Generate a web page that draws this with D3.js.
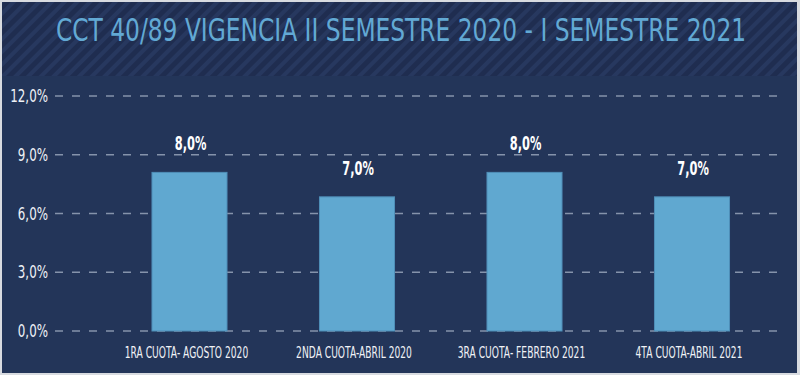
<!DOCTYPE html>
<html>
<head>
<meta charset="utf-8">
<script src="https://cdn.jsdelivr.net/npm/d3@7"></script>
<style>
  html, body { margin: 0; padding: 0; background: #ffffff; }
  svg { display: block; }
  text { font-family: "DejaVu Sans", "Liberation Sans", sans-serif; }
</style>
</head>
<body>
<svg id="chart" width="800" height="375"></svg>
<script>
const title = "CCT 40/89 VIGENCIA II SEMESTRE 2020 - I SEMESTRE 2021";
const categories = ["1RA CUOTA- AGOSTO 2020", "2NDA CUOTA-ABRIL 2020", "3RA CUOTA- FEBRERO 2021", "4TA CUOTA-ABRIL 2021"];
const values = [8.1, 6.85, 8.1, 6.85];
const valueLabels = ["8,0%", "7,0%", "8,0%", "7,0%"];
const yTicks = [0, 3, 6, 9, 12];
const yTickLabels = ["0,0%", "3,0%", "6,0%", "9,0%", "12,0%"];

const W = 800, H = 375;
const svg = d3.select("#chart");
const defs = svg.append("defs");

const pat = defs.append("pattern")
  .attr("id", "stripes")
  .attr("patternUnits", "userSpaceOnUse")
  .attr("width", 9).attr("height", 9)
  .attr("patternTransform", "rotate(45)");
pat.append("rect").attr("width", 9).attr("height", 9).attr("fill", "#1f2d50");
pat.append("rect").attr("x", 0).attr("width", 4).attr("height", 9).attr("fill", "#27385f");

// outer frame
svg.append("rect").attr("x", 0).attr("y", 0).attr("width", W).attr("height", H).attr("fill", "#d8dbe0");
svg.append("rect").attr("x", 2).attr("y", 2).attr("width", 795).attr("height", 371).attr("fill", "#233559");
// title band
svg.append("rect").attr("x", 2).attr("y", 2).attr("width", 795).attr("height", 74).attr("fill", "url(#stripes)");

svg.append("text")
  .attr("transform", "translate(401,41) scale(0.73,1)")
  .attr("text-anchor", "middle")
  .attr("font-size", 32)
  .attr("fill", "#62a9d4")
  .text(title);

const y = d3.scaleLinear().domain([0, 12]).range([331, 96]);
const x = d3.scaleBand().domain(categories).range([105.75, 775.75]).paddingInner(0.552).paddingOuter(0.276);

// gridlines
svg.append("g").selectAll("line").data(yTicks).join("line")
  .attr("x1", 55).attr("x2", 782)
  .attr("y1", d => y(d)).attr("y2", d => y(d))
  .attr("stroke", "#8593ab").attr("stroke-width", 1.5)
  .attr("stroke-dasharray", "8,9");

// y tick labels
svg.append("g").selectAll("text").data(yTicks).join("text")
  .attr("transform", d => `translate(48,${y(d) + 6}) scale(0.7,1)`)
  .attr("text-anchor", "end")
  .attr("font-size", 17)
  .attr("fill", "#eef1f6")
  .text((d, i) => yTickLabels[i]);

// bars
svg.append("g").selectAll("rect").data(values).join("rect")
  .attr("x", (d, i) => x(categories[i]))
  .attr("y", d => y(d))
  .attr("width", x.bandwidth())
  .attr("height", d => y(0) - y(d))
  .attr("fill", "#60a8d0")
  .attr("stroke", "#4f8fb8").attr("stroke-width", 1);

// value labels
svg.append("g").selectAll("text").data(values).join("text")
  .attr("transform", (d, i) => `translate(${x(categories[i]) + x.bandwidth() / 2 + 1},${y(d) - 22}) scale(0.6,1)`)
  .attr("text-anchor", "middle")
  .attr("font-size", 19).attr("font-weight", "bold")
  .attr("fill", "#ffffff")
  .text((d, i) => valueLabels[i]);

// category labels
svg.append("g").selectAll("text").data(categories).join("text")
  .attr("transform", d => `translate(${x(d) + x.bandwidth() / 2 - 3},358) scale(0.61,1)`)
  .attr("text-anchor", "middle")
  .attr("font-size", 15)
  .attr("fill", "#f0f2f6")
  .text(d => d);
</script>
</body>
</html>
